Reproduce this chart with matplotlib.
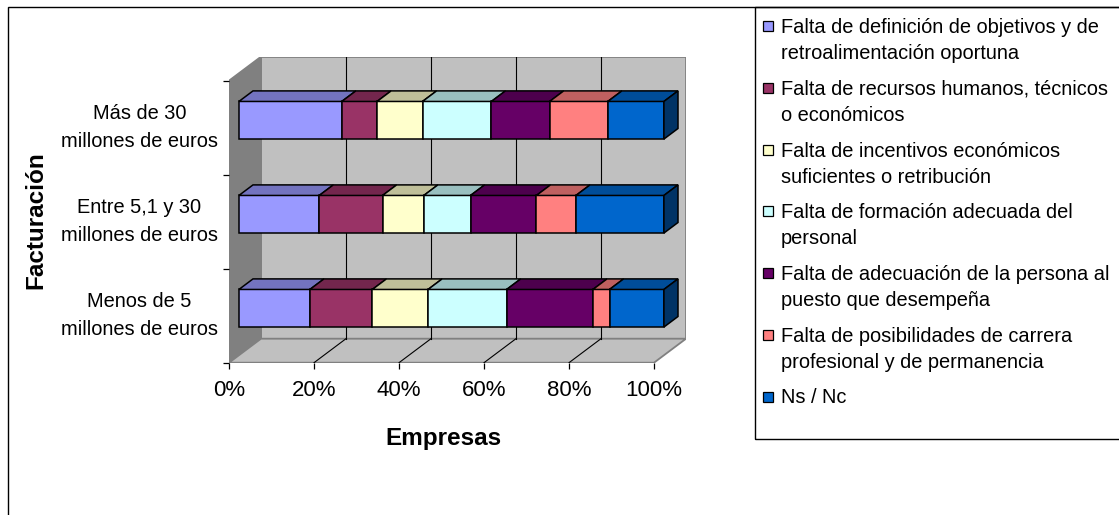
import matplotlib
matplotlib.use("Agg")
import matplotlib.pyplot as plt
from matplotlib.patches import Polygon, Rectangle
from matplotlib.colors import to_rgb

plt.rcParams['font.family'] = ['Liberation Sans', 'DejaVu Sans']

# categorías (de abajo a arriba) y porcentajes de cada motivo
categorias = ['Menos de 5\nmillones de euros',
              'Entre 5,1 y 30\nmillones de euros',
              'Más de 30\nmillones de euros']

motivos = ['Falta de definición de objetivos y de\nretroalimentación oportuna',
           'Falta de recursos humanos, técnicos\no económicos',
           'Falta de incentivos económicos\nsuficientes o retribución',
           'Falta de formación adecuada del\npersonal',
           'Falta de adecuación de la persona al\npuesto que desempeña',
           'Falta de posibilidades de carrera\nprofesional y de permanencia',
           'Ns / Nc']

definicion = [16.7, 18.9, 24.2]
recursos = [14.7, 14.9, 8.3]
incentivos = [13.1, 9.7, 10.7]
formacion = [18.5, 11.0, 16.2]
adecuacion = [20.3, 15.5, 13.7]
carrera = [3.9, 9.3, 13.7]
ns_nc = [12.8, 20.7, 13.2]

series = [definicion, recursos, incentivos, formacion, adecuacion, carrera, ns_nc]
colores = ['#9999FF', '#993366', '#FFFFCC', '#CCFFFF', '#660066', '#FF8080', '#0066CC']

ticks_x = [0, 20, 40, 60, 80, 100]
etiquetas_x = ['0%', '20%', '40%', '60%', '80%', '100%']

W, H = 1119, 515
fig = plt.figure(figsize=(W / 100, H / 100), dpi=100)
fig.patch.set_facecolor('white')


def fx(px):
    return px / W


def fy(py):
    return 1 - py / H


# marco exterior y caja de la leyenda
fig.add_artist(Rectangle((fx(8), fy(540)), 2, fy(7) - fy(540), transform=fig.transFigure,
                         facecolor='none', edgecolor='black', lw=1))
fig.add_artist(Rectangle((fx(755), fy(439)), 1, fy(7) - fy(439), transform=fig.transFigure,
                         facecolor='none', edgecolor='black', lw=1))

# perspectiva oblicua: profundidad completa = 32 px a la derecha, 24 px arriba
px_pct = 4.25
px_cat = 94.0
DX = 32 / px_pct
DY = 24 / px_cat
ncat = len(categorias)

ax = fig.add_axes([fx(229), fy(362.7), fx(686) - fx(229), (306) / H])
ax.set_xlim(0, 100 + DX)
ax.set_ylim(0, ncat + DY)
for s in ax.spines.values():
    s.set_visible(False)
ax.patch.set_visible(False)


def P(x, y, d):
    return (x + d * DX, y + d * DY)


def cara(pts, fc, ec='black', lw=1.1, z=3):
    ax.add_patch(Polygon([P(*p) for p in pts], closed=True, facecolor=fc,
                         edgecolor=ec, lw=lw, zorder=z, joinstyle='miter'))


gris = '#808080'
# pared del fondo, pared izquierda y suelo
cara([(0, 0, 1), (100, 0, 1), (100, ncat, 1), (0, ncat, 1)], '#C0C0C0', gris, 1.3, 1)
cara([(0, 0, 0), (0, 0, 1), (0, ncat, 1), (0, ncat, 0)], '#808080', gris, 1.3, 1)
cara([(0, 0, 0), (100, 0, 0), (100, 0, 1), (0, 0, 1)], '#C0C0C0', gris, 1.3, 1)

# líneas de división en fondo y suelo
for t in ticks_x[1:-1]:
    xa, ya = P(t, 0, 1)
    xb, yb = P(t, ncat, 1)
    ax.plot([xa, xb], [ya, yb], color='black', lw=0.8, zorder=2)
    xa, ya = P(t, 0, 0)
    xb, yb = P(t, 0, 1)
    ax.plot([xa, xb], [ya, yb], color='black', lw=0.8, zorder=2)

# barras apiladas al 100 % en 3D
d0, d1 = 0.31, 0.75
h = 0.2
for i in range(ncat):
    total = sum(s[i] for s in series)
    yc = i + 0.5
    izq = 0.0
    for s, c in zip(series, colores):
        v = s[i] / total * 100
        der = izq + v
        sup = tuple(k * 0.75 for k in to_rgb(c))
        cara([(izq, yc - h, d0), (der, yc - h, d0), (der, yc + h, d0), (izq, yc + h, d0)], c)
        cara([(izq, yc + h, d0), (der, yc + h, d0), (der, yc + h, d1), (izq, yc + h, d1)], sup)
        izq = der
    lado = tuple(k * 0.5 for k in to_rgb(colores[-1]))
    cara([(100, yc - h, d0), (100, yc - h, d1), (100, yc + h, d1), (100, yc + h, d0)], lado)

# ejes
ax.set_xticks(ticks_x)
ax.set_xticklabels(etiquetas_x, fontsize=16)
ax.tick_params(axis='x', direction='out', length=4.5, width=0.9, pad=8, colors='black')
ax.set_yticks(range(ncat + 1))
ax.set_yticklabels([])
ax.set_yticks([i + 0.5 for i in range(ncat)], minor=True)
ax.set_yticklabels(categorias, minor=True, fontsize=14.4, ha='right', va='center',
                   multialignment='center', linespacing=1.58)
ax.tick_params(axis='y', which='major', direction='out', length=4.5, width=0.9)
ax.tick_params(axis='y', which='minor', length=0, pad=8)

fig.text(fx(443), fy(438), 'Empresas', fontsize=17.5, fontweight='bold',
         ha='center', va='center')
fig.text(fx(36), fy(220), 'Facturación', fontsize=17.5, fontweight='bold',
         ha='center', va='center', rotation=90)

# leyenda: cuadro alineado con la primera línea de cada texto
paso_linea = 27
for k, (nombre, c) in enumerate(zip(motivos, colores)):
    base = 31.7 + 61.9 * k
    nlin = nombre.count('\n') + 1
    fig.add_artist(Rectangle((fx(762.5), fy(base - 1)), 10 / W, 10 / H,
                             transform=fig.transFigure, facecolor=c,
                             edgecolor='black', lw=0.9))
    fig.text(fx(781), fy(base + paso_linea * (nlin - 1)), nombre, fontsize=14.4,
             ha='left', va='baseline', linespacing=1.46)

fig.savefig('out.png', dpi=100)
